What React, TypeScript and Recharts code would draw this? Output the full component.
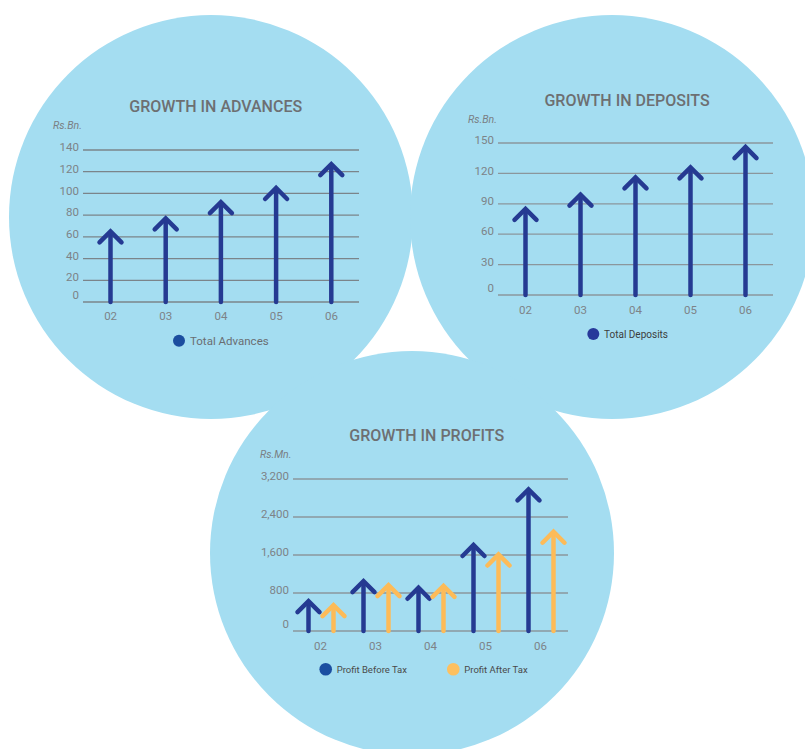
import { BarChart, Bar, XAxis, YAxis, CartesianGrid } from "recharts";

const years = ["02", "03", "04", "05", "06"];
const totalAdvances = [65, 77, 92, 105, 127];
const totalDeposits = [85, 99, 116, 126, 146];
const profitBeforeTax = [630, 1050, 910, 1810, 2980];
const profitAfterTax = [545, 965, 950, 1610, 2090];

const advanceTicks = [0, 20, 40, 60, 80, 100, 120, 140];
const depositTicks = [0, 30, 60, 90, 120, 150];
const profitTicks = [0, 800, 1600, 2400, 3200];

const NAVY = "#253a92";
const GOLD = "#fdbb58";
const BUBBLE = "#a4ddf1";
const FONT = "Roboto, 'Noto Sans', sans-serif";
const TICK_GREY = "#7d8388";

const advanceData = years.map((year, i) => ({ year, advances: totalAdvances[i] }));
const depositData = years.map((year, i) => ({ year, deposits: totalDeposits[i] }));
const profitData = years.map((year, i) => ({
  year,
  pbt: profitBeforeTax[i],
  pat: profitAfterTax[i],
}));

// shaft from the baseline up to the value, with an open chevron head on top
function ArrowShape(props: any) {
  const { x, y, width, height, fill } = props;
  if (x == null || y == null || !width || height == null) return null;
  const cx = x + width / 2;
  const base = y + height;
  return (
    <g>
      <path d={`M${cx},${base} L${cx},${y + 2}`} stroke={fill} strokeWidth={4.5} strokeLinecap="round" fill="none" />
      <path
        d={`M${cx - 11},${y + 11} L${cx},${y} L${cx + 11},${y + 11}`}
        stroke={fill}
        strokeWidth={4.5}
        strokeLinecap="round"
        strokeLinejoin="miter"
        fill="none"
      />
    </g>
  );
}

// value labels sit a little above their grid line; the zero label a bit more
function YTick(props: any) {
  const { x, y, payload } = props;
  const lift = payload.value === 0 ? 7 : 3;
  return (
    <text x={x} y={y - lift} dy="0.36em" textAnchor="end" fill={TICK_GREY} fontSize={11.5} fontFamily={FONT}>
      {Number(payload.value).toLocaleString("en-US")}
    </text>
  );
}

type Box = { left: number; top: number; width: number; height: number };

function ArrowChart({
  box,
  data,
  keys,
  colors,
  domain,
  ticks,
  gridColor,
  labelGap,
}: {
  box: Box;
  data: any[];
  keys: string[];
  colors: string[];
  domain: [number, number];
  ticks: number[];
  gridColor: string;
  labelGap: number;
}) {
  return (
    <div style={{ position: "absolute", left: box.left, top: box.top }}>
      <BarChart
        width={box.width}
        height={box.height}
        data={data}
        margin={{ top: 10, right: 10, bottom: 0, left: 0 }}
        barSize={25}
        barGap={0}
      >
        <CartesianGrid vertical={false} stroke={gridColor} strokeWidth={1.3} />
        <XAxis
          dataKey="year"
          axisLine={false}
          tickLine={false}
          tickSize={0}
          tickMargin={labelGap}
          height={30}
          tick={{ fill: TICK_GREY, fontSize: 11.5, fontFamily: FONT }}
        />
        <YAxis
          width={53}
          domain={domain}
          ticks={ticks}
          interval={0}
          axisLine={false}
          tickLine={false}
          tickSize={0}
          tickMargin={4}
          tick={<YTick />}
        />
        {keys.map((k, i) => (
          <Bar key={k} dataKey={k} fill={colors[i]} shape={<ArrowShape />} isAnimationActive={false} />
        ))}
      </BarChart>
    </div>
  );
}

export default function App() {
  return (
    <div
      style={{
        position: "absolute",
        left: 0,
        top: 0,
        width: 805,
        height: 749,
        background: "#ffffff",
        overflow: "hidden",
        fontFamily: FONT,
      }}
    >
      <svg width={805} height={749} style={{ position: "absolute", left: 0, top: 0 }}>
        <circle cx={211} cy={217} r={202} fill={BUBBLE} />
        <circle cx={612} cy={217} r={202} fill={BUBBLE} />
        <circle cx={412} cy={553} r={202} fill={BUBBLE} />

        <g fontFamily={FONT} fontWeight={500} fontSize={16} fill="#6d6f72" textAnchor="middle">
          <text x={215.7} y={106.7} dy="0.355em">GROWTH IN ADVANCES</text>
          <text x={627} y={100} dy="0.355em">GROWTH IN DEPOSITS</text>
          <text x={426.7} y={435} dy="0.355em">GROWTH IN PROFITS</text>
        </g>

        <g fontFamily={FONT} fontStyle="italic" fontSize={10.5} fill="#7a7f84">
          <text x={53} y={125} dy="0.355em">Rs.Bn.</text>
          <text x={468} y={119} dy="0.355em">Rs.Bn.</text>
          <text x={260} y={454.3} dy="0.355em">Rs.Mn.</text>
        </g>

        <circle cx={179} cy={340.7} r={6} fill="#1b4d9f" />
        <text x={190} y={340.7} dy="0.355em" fontFamily={FONT} fontSize={11.5} fill="#6a6d71">
          Total Advances
        </text>

        <circle cx={593.3} cy={334} r={6} fill="#27399a" />
        <text x={604} y={334} dy="0.355em" fontFamily={FONT} fontSize={10} fill="#3d3d3d">
          Total Deposits
        </text>

        <circle cx={325.7} cy={669.3} r={6.3} fill="#1b4ea1" />
        <text x={336.7} y={669.3} dy="0.355em" fontFamily={FONT} fontSize={9.5} fill="#4a4a4a">
          Profit Before Tax
        </text>
        <circle cx={453.3} cy={669.3} r={6.3} fill="#fdc060" />
        <text x={464.3} y={669.3} dy="0.355em" fontFamily={FONT} fontSize={9.5} fill="#4a4a4a">
          Profit After Tax
        </text>
      </svg>

      <ArrowChart
        box={{ left: 30, top: 140, width: 339, height: 192 }}
        data={advanceData}
        keys={["advances"]}
        colors={[NAVY]}
        domain={[0, 140]}
        ticks={advanceTicks}
        gridColor="#7b848a"
        labelGap={10}
      />
      <ArrowChart
        box={{ left: 445, top: 133, width: 338, height: 192 }}
        data={depositData}
        keys={["deposits"]}
        colors={[NAVY]}
        domain={[0, 150]}
        ticks={depositTicks}
        gridColor="#8b969c"
        labelGap={11}
      />
      <ArrowChart
        box={{ left: 240, top: 469, width: 338, height: 192 }}
        data={profitData}
        keys={["pbt", "pat"]}
        colors={[NAVY, GOLD]}
        domain={[0, 3200]}
        ticks={profitTicks}
        gridColor="#8b969c"
        labelGap={11}
      />
    </div>
  );
}
